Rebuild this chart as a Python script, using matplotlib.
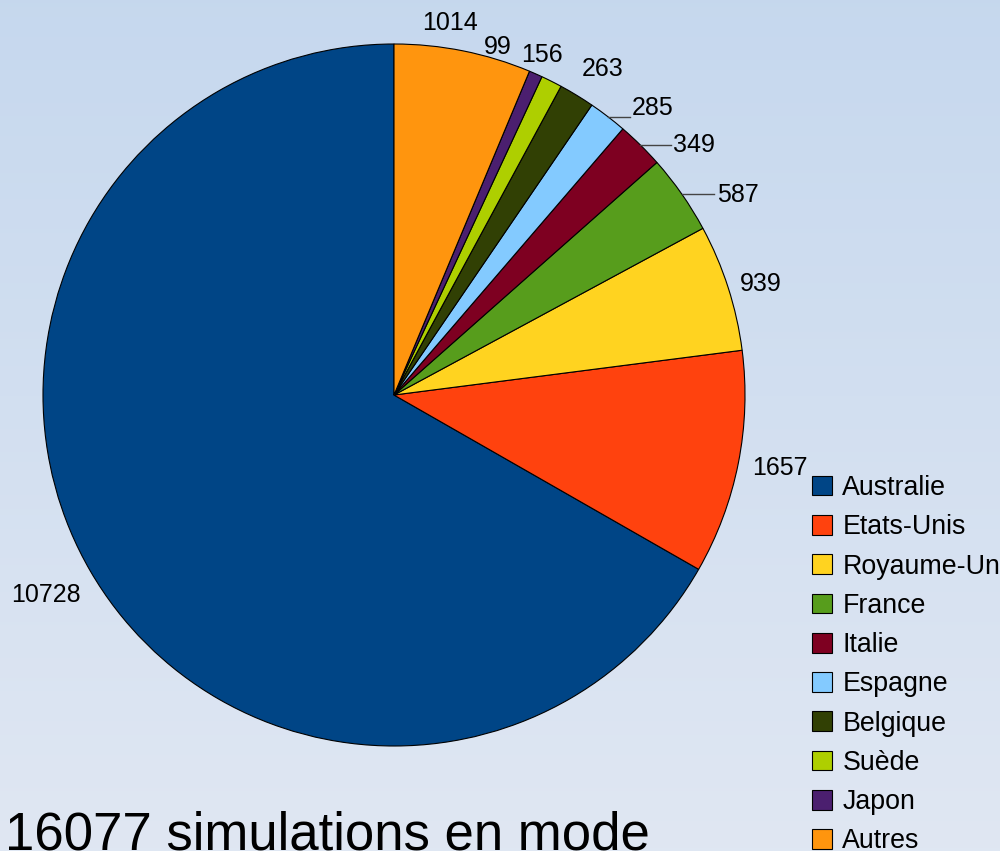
import numpy as np
import matplotlib.pyplot as plt

pays = ['Australie', 'Etats-Unis', 'Royaume-Uni', 'France', 'Italie',
        'Espagne', 'Belgique', 'Suède', 'Japon', 'Autres']
simulations = [10728, 1657, 939, 587, 349, 285, 263, 156, 99, 1014]
couleurs = ['#004586', '#ff420e', '#ffd320', '#579d1c', '#7e0021',
            '#83caff', '#314004', '#aecf00', '#4b1f6f', '#ff950e']

plt.rcParams['font.family'] = ['Liberation Sans', 'DejaVu Sans']

fig = plt.figure(figsize=(10, 8.51), dpi=100)
ax = fig.add_axes([0, 0, 1, 1])

# fond en dégradé (haut -> bas)
t = np.linspace(0, 1, 256).reshape(-1, 1, 1)
haut = np.array([0.776, 0.847, 0.933])
bas = np.array([0.878, 0.906, 0.953])
ax.imshow(haut + (bas - haut) * t, extent=(0, 1000, 0, 851), aspect='auto', zorder=0)

# camembert, en pixels
cx, cy, r = 394, 456, 351
wedges, _ = ax.pie(simulations, colors=couleurs, startangle=90, counterclock=True,
                   radius=r, center=(cx, cy),
                   wedgeprops=dict(edgecolor='black', linewidth=0.8))

# étiquettes : décalage (px) depuis le bord de la part, alignement, longueur du trait
etiq = [(-10, -24, 'right', 0), (14, -5, 'left', 0), (12, 3, 'left', 0),
        (35, -1, 'left', 32), (33, 0, 'left', 31), (24, 9, 'left', 22),
        (5, 26, 'left', 0), (-10, 26, 'center', 0), (-38, 27, 'center', 0),
        (-13, 28, 'center', 0)]
for w, v, (dx, dy, ha, L) in zip(wedges, simulations, etiq):
    a = np.deg2rad((w.theta1 + w.theta2) / 2)
    ex, ey = cx + r * np.cos(a), cy + r * np.sin(a)
    if L:
        ax.plot([ex, ex + L], [ey, ey], color='#444444', lw=1, zorder=3)
    ax.annotate(str(v), xy=(ex, ey), xytext=(dx, dy), textcoords='offset pixels',
                ha=ha, va='center', fontsize=18)

ax.set_xlim(0, 1000)
ax.set_ylim(0, 851)
ax.set_aspect('auto')
ax.axis('off')

ax.legend(wedges, pays, loc='upper left', bbox_to_anchor=(0.812, 1 - 475 / 851),
          bbox_transform=fig.transFigure, frameon=False, fontsize=19.3,
          handlelength=0.75, handleheight=0.75, handletextpad=0.38,
          labelspacing=0.495, borderaxespad=0, borderpad=0)

fig.text(0.005, 1.5 / 851, '16077 simulations en mode', fontsize=38, va='baseline')

fig.savefig('out.png', dpi=100)
